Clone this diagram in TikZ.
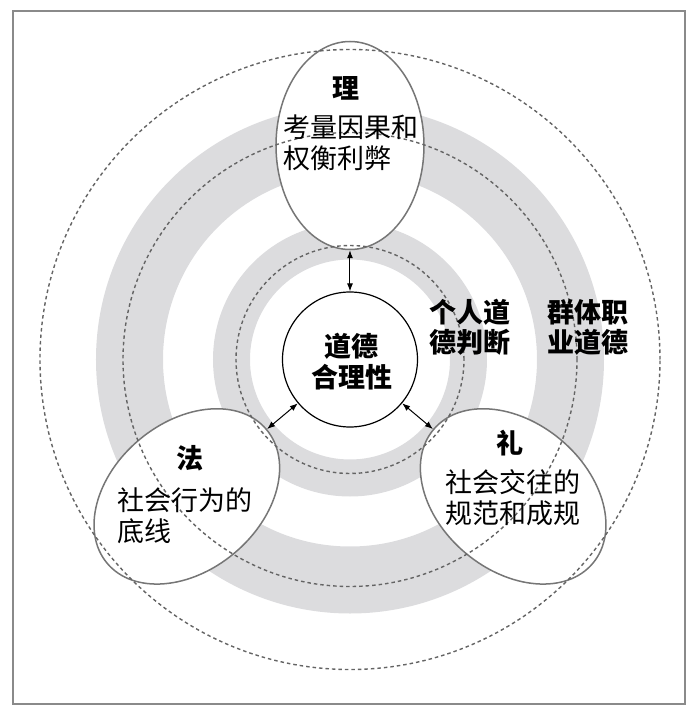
\documentclass[tikz,border=0pt]{standalone}
\usepackage{fontspec}
\setmainfont{Noto Sans CJK SC}
\usetikzlibrary{arrows.meta,shapes.geometric}
\definecolor{ringgray}{RGB}{220,220,222}
\definecolor{linegray}{RGB}{118,118,118}
\definecolor{dashgray}{RGB}{100,100,100}
\definecolor{framegray}{RGB}{138,138,138}
\tikzset{
  ring/.style={fill=ringgray, even odd rule},
  orbit/.style={draw=dashgray, line width=1.4pt, dash pattern=on 3.5pt off 3pt},
  petal/.style={ellipse, draw=linegray, line width=1.5pt, fill=white, minimum width=208pt, minimum height=148pt, inner sep=0pt},
  core/.style={circle, draw=black, line width=1.2pt, fill=white, minimum size=135pt, inner sep=0pt},
  head/.style={font=\fontsize{27pt}{31pt}\selectfont\bfseries, align=center, anchor=base},
  side/.style={font=\fontsize{27pt}{30pt}\selectfont\bfseries, align=left, anchor=base west},
  body/.style={font=\fontsize{27pt}{31pt}\selectfont, align=left, anchor=base west},
  link/.style={{Latex[length=8pt,width=6pt]}-{Latex[length=8pt,width=6pt]}, line width=1pt}
}
\begin{document}
\begin{tikzpicture}[x=1pt, y=1pt]
\useasboundingbox (-350,-355.5) rectangle (347,359.5);
\node (frame) [rectangle, draw=framegray, line width=2pt, minimum width=672pt, minimum height=693pt, anchor=north west] at (-338,349.5) {};

\fill[ring] (0,0) circle (254) (0,0) circle (187);
\fill[ring] (0,0) circle (137) (0,0) circle (100);

\node (li) [petal, rotate=90] at (90:214) {};
\node (fa) [petal, rotate=220] at (220:213) {};
\node (lii) [petal, rotate=320] at (320:213) {};

\draw[orbit] (0,0) circle (310);
\draw[orbit] (0,0) circle (227);
\draw[orbit] (0,0) circle (114);

\node (core) [core] at (0,0) {};
\node (coreT) [head] at (2,-27.8) {道德\\合理性};

\node (liH) [head] at (-4,261.2) {理};
\node (liB) [body] at (-70,191.2) {考量因果和\\权衡利弊};
\node (faH) [head] at (-160,-108.8) {法};
\node (faB) [body] at (-236,-181.8) {社会行为的\\底线};
\node (liiH) [head] at (160,-93.8) {礼};
\node (liiB) [body] at (92,-163.8) {社会交往的\\规范和成规};

\node (self) [side] at (76,7.2) {个人道\\德判断};
\node (group) [side] at (194,7.2) {群体职\\业道德};

\draw[link] (core) -- (li);
\draw[link] (core) -- (fa);
\draw[link] (core) -- (lii);
\end{tikzpicture}
\end{document}
